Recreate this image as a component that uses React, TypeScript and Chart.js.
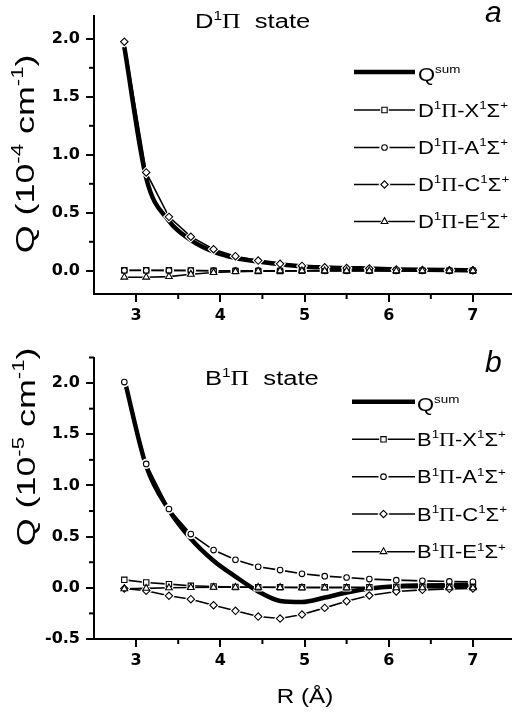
import React, { useEffect, useRef } from 'react';
import { Chart, registerables } from 'chart.js';
Chart.register(...registerables);

// ---- data ----
const R = [2.86, 3.12, 3.39, 3.65, 3.92, 4.18, 4.45, 4.71, 4.97, 5.24, 5.5, 5.77, 6.09, 6.4, 6.72, 7.0];

// panel a: D1Pi state (10^-4 cm^-1)
const D_SUM = [1.93, 0.8, 0.43, 0.265, 0.165, 0.11, 0.08, 0.056, 0.038, 0.029, 0.023, 0.019, 0.012, 0.008, 0.006, 0.005];
const D_X = [0.005, 0.005, 0.004, 0.003, 0.0, -0.002, -0.002, -0.001, 0, 0, 0, 0, 0, 0, 0, 0];
const D_A = [0.003, 0.003, 0.002, 0.002, 0.001, 0.001, 0.001, 0.001, 0.001, 0, 0, 0, 0, 0, 0, 0];
const D_C = [1.975, 0.848, 0.465, 0.294, 0.186, 0.126, 0.088, 0.06, 0.042, 0.03, 0.024, 0.02, 0.012, 0.008, 0.006, 0.005];
const D_E = [-0.055, -0.055, -0.05, -0.03, -0.015, -0.007, -0.003, -0.001, 0, 0, 0, 0, 0, 0, 0, 0];

// panel b: B1Pi state (10^-5 cm^-1)
const B_SUM = [2.04, 1.19, 0.76, 0.48, 0.265, 0.11, -0.035, -0.128, -0.138, -0.095, -0.046, -0.007, 0.016, 0.023, 0.027, 0.03];
const B_X = [0.078, 0.052, 0.036, 0.02, 0.013, 0.008, 0.006, 0.005, 0.005, 0.005, 0.005, 0.006, 0.008, 0.01, 0.01, 0.01];
const B_A = [2.01, 1.21, 0.77, 0.525, 0.369, 0.274, 0.206, 0.173, 0.137, 0.114, 0.101, 0.085, 0.075, 0.068, 0.062, 0.059];
const B_C = [-0.007, -0.029, -0.078, -0.111, -0.17, -0.225, -0.281, -0.3, -0.261, -0.196, -0.131, -0.075, -0.036, -0.02, -0.01, -0.007];
const B_E = [-0.01, -0.005, 0, 0.003, 0.005, 0.005, 0.005, 0.003, 0, 0, 0, 0, 0, 0, 0, 0];

const X_TICKS = [3, 4, 5, 6, 7];
const X_MINOR = [3.5, 4.5, 5.5, 6.5];
const D_Y_TICKS = [0, 0.5, 1, 1.5, 2];
const D_Y_MINOR = [0.25, 0.75, 1.25, 1.75];
const B_Y_TICKS = [-0.5, 0, 0.5, 1, 1.5, 2];
const B_Y_MINOR = [-0.25, 0.25, 0.75, 1.25, 1.75, 2.25];

type Kind = 'n' | 's' | 'p';
type Part = [string, Kind];

const SANS = '"Liberation Sans", Arial, sans-serif';
const SERIF = '"Liberation Serif", "Times New Roman", serif';

// marker styles: [chart.js pointStyle, radius]
const MARKERS: Record<string, [string, number]> = {
  square: ['rect', 3.8],
  circle: ['circle', 2.8],
  diamond: ['rectRot', 3.7],
  triangle: ['triangle', 3.9],
};
const HALO = 2.3;

function fontFor(kind: Kind, size: number, style = '') {
  if (kind === 's') return `${style}${Math.round(size * 0.62)}px ${SANS}`;
  if (kind === 'p') return `${style}${size}px ${SERIF}`;
  return `${style}${size}px ${SANS}`;
}

function richWidth(ctx: CanvasRenderingContext2D, parts: Part[], size: number, style = '') {
  let w = 0;
  for (const [t, k] of parts) {
    ctx.font = fontFor(k, size, style);
    w += ctx.measureText(t).width;
  }
  return w;
}

function drawRich(
  ctx: CanvasRenderingContext2D,
  parts: Part[],
  x: number,
  y: number,
  size: number,
  sx: number,
  align: 'left' | 'center',
  rotate = false,
  style = ''
) {
  ctx.save();
  ctx.translate(x, y);
  if (rotate) ctx.rotate(-Math.PI / 2);
  ctx.scale(sx, 1);
  ctx.fillStyle = '#000';
  ctx.textBaseline = 'alphabetic';
  ctx.textAlign = 'left';
  const w = richWidth(ctx, parts, size, style);
  let cx = align === 'center' ? -w / 2 : 0;
  for (const [t, k] of parts) {
    ctx.font = fontFor(k, size, style);
    const dy = k === 's' ? -size * 0.42 : 0;
    ctx.fillText(t, cx, dy);
    cx += ctx.measureText(t).width;
  }
  ctx.restore();
}

// legend marker (same geometry as Chart.js point styles)
function markerPath(ctx: CanvasRenderingContext2D, shape: string, x: number, y: number, r: number) {
  ctx.beginPath();
  if (shape === 'circle') ctx.arc(x, y, r, 0, Math.PI * 2);
  else if (shape === 'rect') {
    const s = Math.SQRT1_2 * r;
    ctx.rect(x - s, y - s, 2 * s, 2 * s);
  } else if (shape === 'rectRot') {
    ctx.moveTo(x, y - r); ctx.lineTo(x + r, y); ctx.lineTo(x, y + r); ctx.lineTo(x - r, y); ctx.closePath();
  } else {
    const a = (2 * Math.PI) / 3;
    ctx.moveTo(x, y - r);
    ctx.lineTo(x + Math.sin(a) * r, y - Math.cos(a) * r);
    ctx.lineTo(x + Math.sin(2 * a) * r, y - Math.cos(2 * a) * r);
    ctx.closePath();
  }
}

function drawLegendMarker(ctx: CanvasRenderingContext2D, key: string, x: number, y: number) {
  const [shape, r] = MARKERS[key];
  ctx.save();
  ctx.fillStyle = '#fff';
  markerPath(ctx, shape, x, y, r + HALO);
  ctx.fill();
  markerPath(ctx, shape, x, y, r);
  ctx.fill();
  ctx.strokeStyle = '#000';
  ctx.lineWidth = 1.1;
  ctx.stroke();
  ctx.restore();
}

interface PanelCfg {
  top: number;
  height: number;
  padTop: number;
  xScaleH: number;
  yMin: number;
  yMax: number;
  yTicks: number[];
  yMinor: number[];
  sum: number[];
  sx: number[];
  sa: number[];
  sc: number[];
  se: number[];
  prefix: string;
  exp: string;
  letter: string;
  titleX: number;
  titleY: number;
  letterY: number;
  yTitleCY: number;
  yTitleX: number;
  legX0: number;
  legX1: number;
  legTX: number;
  legRows: number[];
  xTitle: boolean;
}

const PANEL_A: PanelCfg = {
  top: 0, height: 340, padTop: 12, xScaleH: 46, yMin: -0.2, yMax: 2.2,
  yTicks: D_Y_TICKS, yMinor: D_Y_MINOR,
  sum: D_SUM, sx: D_X, sa: D_A, sc: D_C, se: D_E,
  prefix: 'D', exp: '-4', letter: 'a',
  titleX: 195, titleY: 28.3, letterY: 22,
  yTitleCY: 154, yTitleX: 34,
  legX0: 354, legX1: 415, legTX: 418, legRows: [72, 110, 147.5, 184.5, 221.5],
  xTitle: false,
};

const PANEL_B: PanelCfg = {
  top: 340, height: 379, padTop: 17.5, xScaleH: 80, yMin: -0.5, yMax: 2.25,
  yTicks: B_Y_TICKS, yMinor: B_Y_MINOR,
  sum: B_SUM, sx: B_X, sa: B_A, sc: B_C, se: B_E,
  prefix: 'B', exp: '-5', letter: 'b',
  titleX: 205, titleY: 45, letterY: 31.7,
  yTitleCY: 107, yTitleX: 35,
  legX0: 352, legX1: 415, legTX: 417, legRows: [61.7, 99.3, 136.7, 174, 211.7],
  xTitle: true,
};

function Panel({ cfg }: { cfg: PanelCfg }) {
  const ref = useRef<HTMLCanvasElement | null>(null);
  useEffect(() => {
    const canvas = ref.current;
    if (!canvas) return;
    const pts = (arr: number[]) => R.map((x, i) => ({ x, y: arr[i] }));
    const series: [number[], string][] = [
      [cfg.sx, 'square'],
      [cfg.sa, 'circle'],
      [cfg.sc, 'diamond'],
      [cfg.se, 'triangle'],
    ];
    const datasets: any[] = [
      {
        data: pts(cfg.sum),
        borderColor: '#000',
        borderWidth: 4.5,
        pointRadius: 0,
        cubicInterpolationMode: 'monotone',
        order: 100,
      },
    ];
    // component lines
    series.forEach(([arr], i) => {
      datasets.push({
        data: pts(arr),
        borderColor: '#000',
        borderWidth: 1.6,
        pointRadius: 0,
        tension: 0,
        order: 50 - i,
      });
    });
    // white halos around symbols (gap between line and symbol)
    series.forEach(([arr, key], i) => {
      const [ps, r] = MARKERS[key];
      datasets.push({
        data: pts(arr),
        showLine: false,
        pointStyle: ps,
        pointRadius: r + HALO,
        pointBackgroundColor: '#fff',
        pointBorderColor: '#fff',
        pointBorderWidth: 0,
        order: 30 - i,
      });
    });
    // symbols
    series.forEach(([arr, key], i) => {
      const [ps, r] = MARKERS[key];
      datasets.push({
        data: pts(arr),
        showLine: false,
        pointStyle: ps,
        pointRadius: r,
        pointBackgroundColor: '#fff',
        pointBorderColor: '#000',
        pointBorderWidth: 1.1,
        order: 10 - i,
      });
    });

    const labels: { parts: Part[]; marker: string | null }[] = [
      { parts: [['Q', 'n'], ['sum', 's']], marker: null },
      { parts: [[cfg.prefix, 'n'], ['1', 's'], ['Π', 'p'], ['-X', 'n'], ['1', 's'], ['Σ', 'n'], ['+', 's']], marker: 'square' },
      { parts: [[cfg.prefix, 'n'], ['1', 's'], ['Π', 'p'], ['-A', 'n'], ['1', 's'], ['Σ', 'n'], ['+', 's']], marker: 'circle' },
      { parts: [[cfg.prefix, 'n'], ['1', 's'], ['Π', 'p'], ['-C', 'n'], ['1', 's'], ['Σ', 'n'], ['+', 's']], marker: 'diamond' },
      { parts: [[cfg.prefix, 'n'], ['1', 's'], ['Π', 'p'], ['-E', 'n'], ['1', 's'], ['Σ', 'n'], ['+', 's']], marker: 'triangle' },
    ];

    const decor = {
      id: 'decor',
      afterDraw(chart: any) {
        const ctx: CanvasRenderingContext2D = chart.ctx;
        const xs = chart.scales.x;
        const ys = chart.scales.y;
        const ca = chart.chartArea;
        ctx.save();
        ctx.strokeStyle = '#000';
        ctx.lineWidth = 2;
        // minor ticks
        for (const v of X_MINOR) {
          const px = xs.getPixelForValue(v);
          ctx.beginPath();
          ctx.moveTo(px, ca.bottom);
          ctx.lineTo(px, ca.bottom + 5);
          ctx.stroke();
        }
        for (const v of cfg.yMinor) {
          const py = ys.getPixelForValue(v);
          ctx.beginPath();
          ctx.moveTo(ca.left, py);
          ctx.lineTo(ca.left - 5, py);
          ctx.stroke();
        }
        ctx.restore();

        // legend
        labels.forEach((l, i) => {
          const y = cfg.legRows[i];
          ctx.save();
          ctx.strokeStyle = '#000';
          ctx.lineWidth = i === 0 ? 4.5 : 1.6;
          ctx.beginPath();
          ctx.moveTo(cfg.legX0, y);
          ctx.lineTo(cfg.legX1, y);
          ctx.stroke();
          ctx.restore();
          if (l.marker) drawLegendMarker(ctx, l.marker, (cfg.legX0 + cfg.legX1) / 2, y);
          drawRich(ctx, l.parts, cfg.legTX, y + (i === 0 ? 9 : 6.5), 18, 1.22, 'left');
        });

        // title
        drawRich(ctx, [[cfg.prefix, 'n'], ['1', 's'], ['Π', 'p'], ['  state', 'n']], cfg.titleX, cfg.titleY, 20, 1.28, 'left');
        // panel letter
        drawRich(ctx, [[cfg.letter, 'n']], 485, cfg.letterY, 30, 1.0, 'left', false, 'italic ');
        // y title
        drawRich(
          ctx,
          [['Q (10', 'n'], [cfg.exp, 's'], [' cm', 'n'], ['-1', 's'], [')', 'n']],
          cfg.yTitleX,
          cfg.yTitleCY,
          26,
          1.38,
          'center',
          true
        );
        if (cfg.xTitle) {
          drawRich(ctx, [['R (Å)', 'n']], 305, 363, 21, 1.15, 'center');
        }
      },
    };

    const chart = new Chart(canvas, {
      type: 'line',
      data: { datasets },
      options: {
        responsive: false,
        animation: false,
        devicePixelRatio: 1,
        layout: { padding: { top: cfg.padTop, right: 2, left: 0, bottom: 0 } },
        plugins: { legend: { display: false }, tooltip: { enabled: false }, title: { display: false } },
        events: [],
        scales: {
          x: {
            type: 'linear',
            min: 2.5,
            max: 7.45,
            afterBuildTicks: (s: any) => {
              s.ticks = X_TICKS.map((v) => ({ value: v }));
            },
            afterFit: (s: any) => {
              s.height = cfg.xScaleH;
            },
            ticks: {
              callback: (v: any) => String(v),
              color: '#000',
              padding: 4,
              font: { family: '"DejaVu Sans", sans-serif', weight: 'bold', size: 16 },
              maxRotation: 0,
            },
            grid: { drawOnChartArea: false, drawTicks: true, tickLength: 8, color: '#000', lineWidth: 2 },
            border: { display: true, color: '#000', width: 2 },
          },
          y: {
            type: 'linear',
            min: cfg.yMin,
            max: cfg.yMax,
            afterBuildTicks: (s: any) => {
              s.ticks = cfg.yTicks.map((v) => ({ value: v }));
            },
            afterFit: (s: any) => {
              s.width = 94;
            },
            ticks: {
              callback: (v: any) => Number(v).toFixed(1),
              color: '#000',
              padding: 6,
              font: { family: '"DejaVu Sans", sans-serif', weight: 'bold', size: 16 },
            },
            grid: { drawOnChartArea: false, drawTicks: true, tickLength: 8, color: '#000', lineWidth: 2 },
            border: { display: true, color: '#000', width: 2 },
          },
        },
      } as any,
      plugins: [decor],
    });
    return () => chart.destroy();
  }, [cfg]);
  return (
    <canvas
      ref={ref}
      width={517}
      height={cfg.height}
      style={{ position: 'absolute', left: 0, top: cfg.top, width: 517, height: cfg.height }}
    />
  );
}

export default function App() {
  return (
    <div style={{ position: 'absolute', left: 0, top: 0, width: 517, height: 719, background: '#fff', overflow: 'hidden' }}>
      <Panel cfg={PANEL_A} />
      <Panel cfg={PANEL_B} />
    </div>
  );
}
